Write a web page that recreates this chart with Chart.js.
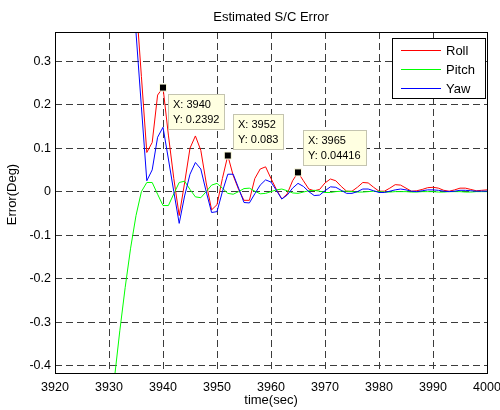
<!DOCTYPE html>
<html>
<head>
<meta charset="utf-8">
<title>Estimated S/C Error</title>
<script src="https://cdn.jsdelivr.net/npm/chart.js@4.4.1/dist/chart.umd.min.js"></script>
<style>
    html, body { margin: 0; padding: 0; background: #fff; }
    #wrap { width: 500px; height: 410px; }
</style>
</head>
<body>
<div id="wrap"><canvas id="errChart" width="500" height="410"></canvas></div>
<script>
// time axis, one sample per second
var time = [3928, 3929, 3930, 3931, 3932, 3933, 3934, 3935, 3936, 3937,
    3938, 3939, 3940, 3941, 3942, 3943, 3944, 3945, 3946, 3947,
    3948, 3949, 3950, 3951, 3952, 3953, 3954, 3955, 3956, 3957,
    3958, 3959, 3960, 3961, 3962, 3963, 3964, 3965, 3966, 3967,
    3968, 3969, 3970, 3971, 3972, 3973, 3974, 3975, 3976, 3977,
    3978, 3979, 3980, 3981, 3982, 3983, 3984, 3985, 3986, 3987,
    3988, 3989, 3990, 3991, 3992, 3993, 3994, 3995, 3996, 3997,
    3998, 3999, 4000];
var roll = [2.1, 1.9, 1.7, 1.5, 1.25, 0.98, 0.7, 0.44, 0.265, 0.09,
    0.113, 0.222, 0.2392, 0.13, 0.03, -0.055, 0.02, 0.1, 0.128, 0.095,
    0.02, -0.042, -0.03, 0.03, 0.083, 0.037, 0.005, -0.02, -0.02, 0.03,
    0.052, 0.057, 0.03, 0.005, -0.017, -0.005, 0.025, 0.04416, 0.025, 0.006,
    0.002, 0.005, 0.02, 0.029, 0.025, 0.012, 0.001, 0.001, 0.01, 0.021,
    0.02, 0.01, 0.001, 0.001, 0.008, 0.016, 0.015, 0.008, 0.001, 0.002,
    0.005, 0.009, 0.01, 0.008, 0.003, 0.001, 0.004, 0.008, 0.008, 0.005,
    0.002, 0.003, 0.004];
var pitch = [-0.78, -0.66, -0.55, -0.43, -0.32, -0.22, -0.13, -0.055, 0.0, 0.021,
    0.021, -0.006, -0.032, -0.032, -0.005, 0.021, 0.024, 0.005, -0.012, -0.014,
    0.0, 0.015, 0.019, 0.008, -0.004, -0.006, 0.0, 0.007, 0.008, 0.001,
    -0.005, -0.004, 0.0, 0.004, 0.006, 0.002, -0.003, -0.004, -0.001, 0.002,
    0.003, 0.001, -0.002, -0.002, 0.0, 0.001, 0.001, 0.0, -0.001, -0.001,
    0.0, 0.001, 0.0, -0.001, -0.001, 0.0, 0.0, 0.0, -0.001, -0.001,
    0.0, 0.0, 0.0, -0.001, -0.001, 0.0, 0.0, 0.0, -0.001, -0.001,
    0.0, 0.0, 0.0];
var yaw = [2.0, 1.8, 1.6, 1.4, 1.15, 0.88, 0.6, 0.366, 0.195, 0.025,
    0.05, 0.125, 0.148, 0.075, 0.0, -0.073, -0.01, 0.04, 0.067, 0.052,
    0.0, -0.048, -0.046, 0.0, 0.04, 0.04, 0.008, -0.025, -0.026, -0.005,
    0.015, 0.027, 0.022, 0.003, -0.017, -0.008, 0.008, 0.019, 0.012, 0.0,
    -0.009, -0.008, 0.002, 0.011, 0.01, 0.003, -0.004, -0.004, 0.0, 0.006,
    0.006, 0.002, -0.002, -0.002, 0.001, 0.004, 0.006, 0.004, 0.001, 0.0,
    0.002, 0.004, 0.004, 0.003, 0.001, 0.0, 0.001, 0.003, 0.003, 0.002,
    0.001, 0.001, 0.001];

// data tips
var tipX = [3940, 3952, 3965];
var tipY = [0.2392, 0.083, 0.04416];

var xTicks = [3920, 3930, 3940, 3950, 3960, 3970, 3980, 3990, 4000];
var yTicks = [-0.4, -0.3, -0.2, -0.1, 0, 0.1, 0.2, 0.3];

var FONT = '"Liberation Sans", Arial, Helvetica, sans-serif';

function toPoints(values) {
    return time.map(function (t, i) {
        return { x: t, y: values[i] };
    });
}

// title, axis labels, box, legend and data tip boxes
var decor = {
    id: 'decor',
    afterDraw: function (chart) {
        var ctx = chart.ctx;
        var a = chart.chartArea;
        var xs = chart.scales.x;
        var ys = chart.scales.y;
        var cx = (a.left + a.right) / 2;
        var cy = (a.top + a.bottom) / 2;
        ctx.save();

        // axes box
        ctx.strokeStyle = '#000';
        ctx.lineWidth = 1;
        ctx.strokeRect(Math.round(a.left) + 0.5, Math.round(a.top) + 0.5,
            Math.round(a.right - a.left), Math.round(a.bottom - a.top));

        // titles
        ctx.fillStyle = '#000';
        ctx.font = '13px ' + FONT;
        ctx.textAlign = 'center';
        ctx.textBaseline = 'alphabetic';
        ctx.fillText('Estimated S/C Error', cx, 21);
        ctx.fillText('time(sec)', cx, 404);
        ctx.save();
        ctx.translate(16, cy - 8);
        ctx.rotate(-Math.PI / 2);
        ctx.fillText('Error(Deg)', 0, 0);
        ctx.restore();

        // legend
        var lx = a.right - 95, ly = a.top + 6, lw = 93, lh = 60;
        ctx.fillStyle = '#fff';
        ctx.fillRect(lx, ly, lw, lh);
        ctx.strokeStyle = '#000';
        ctx.strokeRect(Math.round(lx) + 0.5, Math.round(ly) + 0.5, lw, lh);
        ctx.textAlign = 'left';
        var lines = chart.data.datasets.filter(function (d) { return d.showLine !== false; });
        lines.forEach(function (d, i) {
            var ry = Math.round(ly + 11.5 + i * 19.3) + 0.5;
            ctx.strokeStyle = d.borderColor;
            ctx.beginPath();
            ctx.moveTo(lx + 9, ry);
            ctx.lineTo(lx + 49, ry);
            ctx.stroke();
            ctx.fillStyle = '#000';
            ctx.fillText(d.label, lx + 54, ry + 4.7);
        });

        // data tip boxes
        var tipBelow = [true, false, false];
        ctx.font = '11px ' + FONT;
        ctx.textBaseline = 'middle';
        for (var i = 0; i < tipX.length; i++) {
            var px = xs.getPixelForValue(tipX[i]);
            var py = ys.getPixelForValue(tipY[i]);
            var t1 = 'X: ' + tipX[i];
            var t2 = 'Y: ' + tipY[i];
            var w = Math.round(Math.max(ctx.measureText(t1).width, ctx.measureText(t2).width) + 10);
            var h = 35;
            var bx = Math.round(px + 5);
            var by = Math.round(tipBelow[i] ? py + 6 : py - 7 - h);
            ctx.fillStyle = '#ffffe1';
            ctx.fillRect(bx, by, w, h);
            ctx.strokeStyle = '#c4c4b0';
            ctx.strokeRect(bx + 0.5, by + 0.5, w, h);
            ctx.fillStyle = '#000';
            ctx.fillText(t1, bx + 5, by + 11);
            ctx.fillText(t2, bx + 5, by + 26);
        }
        ctx.restore();
    }
};

var ctx = document.getElementById('errChart').getContext('2d');
var errChart = new Chart(ctx, {
    type: 'line',
    data: {
        datasets: [
            {
                label: 'tips',
                data: tipX.map(function (x, i) { return { x: x, y: tipY[i] }; }),
                showLine: false,
                pointStyle: 'rect',
                pointRadius: 5,
                pointBackgroundColor: '#000',
                pointBorderColor: '#ffffe1',
                pointBorderWidth: 1,
                clip: false,
                order: 0
            },
            { label: 'Roll', data: toPoints(roll), borderColor: '#ff0000', order: 3 },
            { label: 'Pitch', data: toPoints(pitch), borderColor: '#00ff00', order: 2 },
            { label: 'Yaw', data: toPoints(yaw), borderColor: '#0000ff', order: 1 }
        ]
    },
    options: {
        responsive: false,
        animation: false,
        devicePixelRatio: 1,
        events: [],
        layout: { padding: { left: 0, top: 32, right: 13, bottom: 0 } },
        elements: {
            line: { borderWidth: 1, tension: 0, fill: false },
            point: { radius: 0 }
        },
        plugins: {
            legend: { display: false },
            title: { display: false },
            tooltip: { enabled: false }
        },
        scales: {
            x: {
                type: 'linear',
                min: 3920,
                max: 4000,
                afterBuildTicks: function (s) {
                    s.ticks = xTicks.map(function (v) { return { value: v }; });
                },
                afterFit: function (s) {
                    s.height = 37;
                    // let the last label run past the edge like the original
                    s.paddingLeft = 0;
                    s.paddingRight = 0;
                },
                ticks: {
                    font: { family: FONT, size: 12.5 },
                    color: '#000',
                    padding: 7,
                    maxRotation: 0,
                    callback: function (v) { return String(v); }
                },
                grid: { color: '#3c3c3c', lineWidth: 1, drawTicks: false },
                border: { display: false, dash: [7, 4] }
            },
            y: {
                type: 'linear',
                min: -0.417,
                max: 0.367,
                afterBuildTicks: function (s) {
                    s.ticks = yTicks.map(function (v) { return { value: v }; });
                },
                afterFit: function (s) { s.width = 55; },
                ticks: {
                    font: { family: FONT, size: 12.5 },
                    color: '#000',
                    padding: 4,
                    callback: function (v) { return v === 0 ? '0' : v.toFixed(1); }
                },
                grid: { color: '#3c3c3c', lineWidth: 1, drawTicks: false },
                border: { display: false, dash: [7, 4] }
            }
        }
    },
    plugins: [decor]
});
</script>
</body>
</html>
